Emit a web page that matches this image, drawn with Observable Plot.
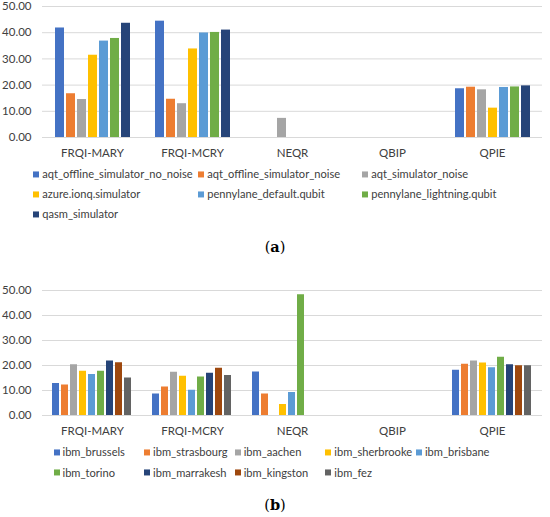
<!DOCTYPE html>
<html><head><meta charset="utf-8">
<script src="https://cdn.jsdelivr.net/npm/d3@7"></script>
<script src="https://cdn.jsdelivr.net/npm/@observablehq/plot@0.6"></script>
<style>
body{margin:0;background:#fff;}
#root{position:relative;width:550px;height:517px;overflow:hidden;font-family:Lato,sans-serif;color:#404040;}
.chart{position:absolute;left:0;}
.leg{position:absolute;display:flex;align-items:center;font-size:11.1px;white-space:nowrap;transform:translateY(-50%);line-height:1;}
.sw{width:6px;height:6px;margin-right:3px;flex:none;}
.cap{position:absolute;left:0;width:550px;text-align:center;font-family:"DejaVu Serif",serif;font-size:14.5px;color:#000;transform:translateY(-50%);line-height:1;}
</style></head><body><div id="root"></div>
<script>
const categories = ["FRQI-MARY", "FRQI-MCRY", "NEQR", "QBIP", "QPIE"];
const yTicks = [0, 10, 20, 30, 40, 50];

// (a) simulators
const simSeries = ["aqt_offline_simulator_no_noise", "aqt_offline_simulator_noise", "aqt_simulator_noise",
  "azure.ionq.simulator", "pennylane_default.qubit", "pennylane_lightning.qubit", "qasm_simulator"];
const simColors = ["#4472C4", "#ED7D31", "#A5A5A5", "#FFC000", "#5B9BD5", "#70AD47", "#264478"];
const simValues = [
  [41.8, 44.4, 0, 0, 18.6],
  [16.7, 14.6, 0, 0, 19.2],
  [14.5, 12.9, 7.3, 0, 18.2],
  [31.4, 33.8, 0, 0, 11.2],
  [36.8, 39.9, 0, 0, 19.1],
  [37.8, 40.1, 0, 0, 19.3],
  [43.6, 41.0, 0, 0, 19.7]
];

// (b) IBM hardware
const ibmSeries = ["ibm_brussels", "ibm_strasbourg", "ibm_aachen", "ibm_sherbrooke", "ibm_brisbane",
  "ibm_torino", "ibm_marrakesh", "ibm_kingston", "ibm_fez"];
const ibmColors = ["#4472C4", "#ED7D31", "#A5A5A5", "#FFC000", "#5B9BD5", "#70AD47", "#264478", "#9E480E", "#636363"];
const ibmValues = [
  [12.8, 8.6, 17.4, 0, 18.1],
  [12.2, 11.4, 8.6, 0, 20.5],
  [20.3, 17.3, 0, 0, 21.8],
  [17.7, 15.7, 4.4, 0, 21.0],
  [16.4, 10.1, 9.2, 0, 19.1],
  [17.7, 15.4, 48.3, 0, 23.3],
  [21.8, 16.9, 0, 0, 20.3],
  [21.1, 18.9, 0, 0, 19.9],
  [15.0, 16.0, 0, 0, 19.9]
];

const root = document.getElementById("root");

function tidy(series, values) {
  const rows = [];
  series.forEach((s, i) => categories.forEach((c, j) => rows.push({cat: c, series: s, value: values[i][j]})));
  return rows;
}

function chart(series, colors, values, opts) {
  const data = tidy(series, values);
  const p = Plot.plot({
    width: 550,
    height: opts.height,
    marginLeft: 40,
    marginRight: 6,
    marginTop: opts.marginTop,
    marginBottom: opts.marginBottom,
    style: {fontFamily: "Lato, sans-serif", fontSize: "11.5px", color: "#404040", background: "#fff"},
    fx: {domain: categories, padding: 0},
    x: {domain: series, paddingInner: 0.2, paddingOuter: opts.po, axis: null},
    y: {domain: [0, 50]},
    color: {domain: series, range: colors},
    marks: [
      Plot.ruleY(yTicks, {stroke: "#d9d9d9", strokeWidth: 1}),
      Plot.barY(data, {fx: "cat", x: "series", y: "value", fill: "series"}),
      Plot.axisY({ticks: yTicks, tickSize: 0, tickPadding: 11, tickFormat: d => d.toFixed(2), label: null, fill: "#404040"}),
      Plot.axisFx({anchor: "bottom", tickSize: 0, tickPadding: 11, label: null, fill: "#404040"})
    ]
  });
  p.classList.add("chart");
  p.style.top = opts.top + "px";
  root.appendChild(p);
}

function legend(series, colors, lefts, rows) {
  const perRow = lefts.length;
  series.forEach((s, i) => {
    const d = document.createElement("div");
    d.className = "leg";
    d.style.left = lefts[i % perRow] + "px";
    d.style.top = rows[Math.floor(i / perRow)] + "px";
    const sw = document.createElement("span");
    sw.className = "sw";
    sw.style.background = colors[i];
    const t = document.createElement("span");
    t.textContent = s;
    d.appendChild(sw); d.appendChild(t);
    root.appendChild(d);
  });
}

function caption(letter, y) {
  const d = document.createElement("div");
  d.className = "cap";
  d.style.top = y + "px";
  d.innerHTML = "(<b>" + letter + "</b>)";
  root.appendChild(d);
}

chart(simSeries, simColors, simValues, {top: 0, height: 162, marginTop: 6, marginBottom: 25, po: 0.82});
legend(simSeries, simColors, [33.3, 198.3, 362.3], [174.3, 194.3, 214.3]);
caption("a", 246.7);

chart(ibmSeries, ibmColors, ibmValues, {top: 280, height: 161, marginTop: 10, marginBottom: 26, po: 0.85});
legend(ibmSeries, ibmColors, [53.5, 144.1, 234.7, 325.3, 415.9], [452.3, 472.7]);
caption("b", 505);
</script></body></html>
